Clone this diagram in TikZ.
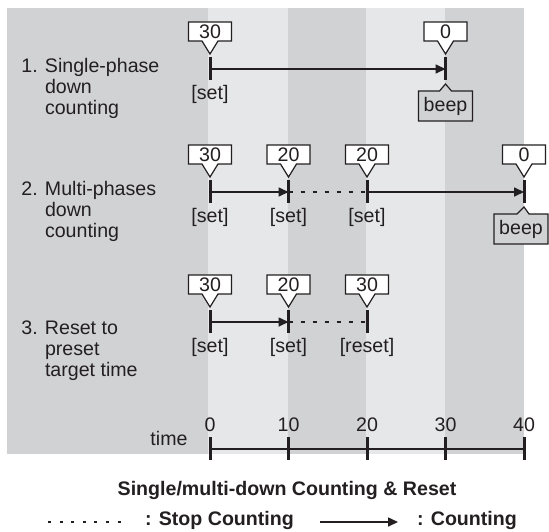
\documentclass[tikz,border=0pt]{standalone}
\usepackage{fontspec}
\setmainfont{Liberation Sans}
\usetikzlibrary{shapes.callouts,arrows.meta,calc}

\definecolor{bandDark}{RGB}{209,210,212}
\definecolor{bandLight}{RGB}{230,231,232}
\definecolor{inkc}{RGB}{35,31,32}

\tikzset{
  timetick/.style={line width=1.5pt, inkc},
  counting/.style={line width=0.8pt, inkc, -{Triangle[length=5pt,width=4.5pt]}},
  stopped/.style={line width=0.8pt, inkc, dash pattern=on 2pt off 4pt},
  numbox/.style={rectangle callout, draw=inkc, fill=white, line width=0.6pt,
    inner sep=0pt, minimum width=21.5pt, minimum height=9.5pt, callout pointer width=8pt},
  beepbox/.style={rectangle callout, draw=inkc, fill=bandDark, line width=0.6pt,
    inner sep=0pt, minimum width=27pt, minimum height=15pt, callout pointer width=6pt}
}

\begin{document}
\begin{tikzpicture}[x=0.5pt, y=0.5pt, font=\fontsize{9.8}{10.5}\selectfont, text=inkc]
	\useasboundingbox (0,0) rectangle (549,531);
	% background bands
	\fill[bandDark] (7,523) rectangle (524,77);
	\fill[bandLight] (208,523) rectangle (288,77);
	\fill[bandLight] (366,523) rectangle (445,77);

	% row labels
	\node[anchor=north west, inner sep=0pt, align=left] (lab1) at (21,473)
	      {1. Single-phase\\\hphantom{1. }down\\\hphantom{1. }counting};
	\node[anchor=north west, inner sep=0pt, align=left] (lab2) at (21,350)
	      {2. Multi-phases\\\hphantom{2. }down\\\hphantom{2. }counting};
	\node[anchor=north west, inner sep=0pt, align=left] (lab3) at (21,211)
	      {3. Reset to\\\hphantom{3. }preset\\\hphantom{3. }target time};

	% event points
	\coordinate (r1a) at (210,462);
	\coordinate (r1b) at (445.5,462);
	\coordinate (r2a) at (210,339);
	\coordinate (r2b) at (288.5,339);
	\coordinate (r2c) at (367,339);
	\coordinate (r2d) at (524,339);
	\coordinate (r3a) at (210,209);
	\coordinate (r3b) at (288.5,209);
	\coordinate (r3c) at (367,209);

	% counting and stop
	\draw[counting] (r1a) -- (r1b);
	\draw[counting] (r2a) -- (r2b);
	\draw[stopped] (r2b) -- (r2c);
	\draw[counting] (r2c) -- (r2d);
	\draw[counting] (r3a) -- (r3b);
	\draw[stopped] (r3b) -- (r3c);

	\foreach \c in {r1a,r1b,r2a,r2b,r2c,r2d,r3a,r3b,r3c}
	      \draw[timetick] ($(\c)+(0,12)$) -- ($(\c)+(0,-11)$);

	% remaining time
	\node[numbox, callout absolute pointer={($(r1a)+(0,15)$)}] (n1a) at ($(r1a)+(0,37.5)$) {30};
	\node[numbox, callout absolute pointer={($(r1b)+(0,15)$)}] (n1b) at ($(r1b)+(0,37.5)$) {0};
	\node[numbox, callout absolute pointer={($(r2a)+(0,15)$)}] (n2a) at ($(r2a)+(0,37.5)$) {30};
	\node[numbox, callout absolute pointer={($(r2b)+(0,15)$)}] (n2b) at ($(r2b)+(0,37.5)$) {20};
	\node[numbox, callout absolute pointer={($(r2c)+(0,15)$)}] (n2c) at ($(r2c)+(0,37.5)$) {20};
	\node[numbox, callout absolute pointer={($(r2d)+(0,15)$)}] (n2d) at ($(r2d)+(0,37.5)$) {0};
	\node[numbox, callout absolute pointer={($(r3a)+(0,15)$)}] (n3a) at ($(r3a)+(0,37.5)$) {30};
	\node[numbox, callout absolute pointer={($(r3b)+(0,15)$)}] (n3b) at ($(r3b)+(0,37.5)$) {20};
	\node[numbox, callout absolute pointer={($(r3c)+(0,15)$)}] (n3c) at ($(r3c)+(0,37.5)$) {30};

	% actions
	\node (s1a) at ($(r1a)+(0,-25)$) {[set]};
	\node (s2a) at ($(r2a)+(0,-25)$) {[set]};
	\node (s2b) at ($(r2b)+(0,-25)$) {[set]};
	\node (s2c) at ($(r2c)+(0,-25)$) {[set]};
	\node (s3a) at ($(r3a)+(0,-25)$) {[set]};
	\node (s3b) at ($(r3b)+(0,-25)$) {[set]};
	\node (s3c) at ($(r3c)+(0,-25)$) {[reset]};
	\node[beepbox, callout absolute pointer={($(r1b)+(0,-15)$)}] (b1) at ($(r1b)+(0,-37)$) {beep};
	\node[beepbox, callout absolute pointer={($(r2d)+(0,-15)$)}] (b2) at ($(r2d)+(-3,-37)$) {beep};

	% time axis
	\coordinate (ax0) at (210,82);
	\coordinate (ax40) at (524,82);
	\draw[line width=0.8pt, inkc] (ax0) -- (ax40);
	\foreach \t in {0,10,20,30,40} {
	      \coordinate (ax\t) at ({210+7.85*\t},82);
	      \draw[timetick] ($(ax\t)+(0,12)$) -- ($(ax\t)+(0,-11)$);
	      \node (tl\t) at ($(ax\t)+(0,24)$) {\t};
	}
	\node (tname) at (169,93) {time};

	% caption and legend
	\node[font=\fontsize{9.8}{10.5}\selectfont\bfseries] (title) at (287,41) {Single/multi-down Counting \& Reset};
	\coordinate (ls0) at (48,9);
	\coordinate (ls1) at (127,9);
	\draw[stopped, line width=0.6pt, dash pattern=on 1.5pt off 4.3pt] (ls0) -- (ls1);
	\node[anchor=west, font=\fontsize{9.8}{10.5}\selectfont\bfseries] (lstop) at (138,11) {: Stop Counting};
	\coordinate (lc0) at (320,9);
	\coordinate (lc1) at (398,9);
	\draw[counting] (lc0) -- (lc1);
	\node[anchor=west, font=\fontsize{9.8}{10.5}\selectfont\bfseries] (lcount) at (410,11) {: Counting};
\end{tikzpicture}
\end{document}
